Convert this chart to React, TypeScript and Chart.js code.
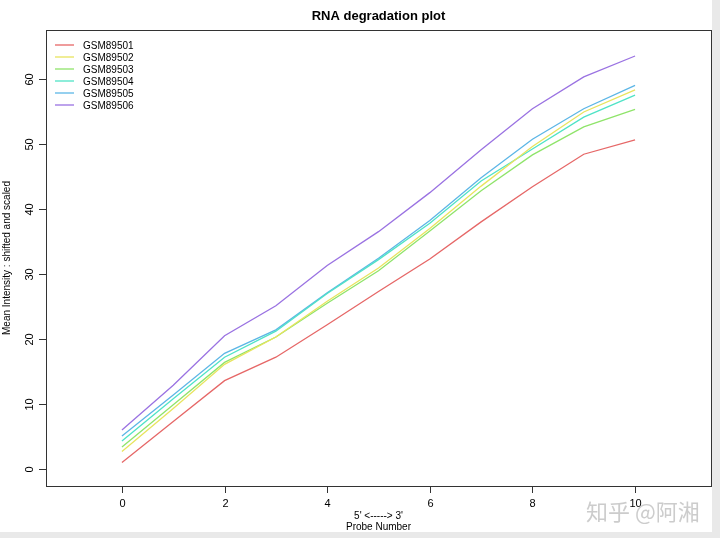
import React, { useEffect, useRef } from "react";
import { Chart, registerables } from "chart.js";

Chart.register(...registerables);

const probeNumbers = [0, 1, 2, 3, 4, 5, 6, 7, 8, 9, 10];
const sampleNames = ["GSM89501", "GSM89502", "GSM89503", "GSM89504", "GSM89505", "GSM89506"];
const gsm89501 = [1.0, 7.3, 13.6, 17.2, 22.2, 27.3, 32.3, 38.0, 43.4, 48.4, 50.6];
const gsm89502 = [2.7, 9.3, 16.1, 20.3, 25.8, 30.9, 37.0, 43.5, 49.6, 54.9, 58.3];
const gsm89503 = [3.4, 9.9, 16.4, 20.3, 25.5, 30.5, 36.6, 42.8, 48.3, 52.6, 55.3];
const gsm89504 = [4.3, 10.8, 17.2, 21.2, 27.0, 32.2, 37.8, 44.3, 49.2, 54.1, 57.5];
const gsm89505 = [5.1, 11.4, 17.8, 21.4, 27.1, 32.4, 38.2, 44.8, 50.7, 55.4, 59.0];
const gsm89506 = [6.0, 12.9, 20.5, 25.1, 31.3, 36.5, 42.5, 49.1, 55.4, 60.3, 63.5];
const seriesValues = [gsm89501, gsm89502, gsm89503, gsm89504, gsm89505, gsm89506];
const seriesColors = ["#E66767", "#E8E45E", "#8FE46A", "#4FE3C6", "#5CB6E6", "#9A72E2"];
const xTickValues = [0, 2, 4, 6, 8, 10];
const yTickValues = [0, 10, 20, 30, 40, 50, 60];

const FONT = "'Liberation Sans', Arial, Helvetica, sans-serif";

const rPlotPlugin = {
  id: "rPlot",
  beforeDraw(chart: any) {
    const ctx = chart.ctx;
    ctx.save();
    ctx.fillStyle = "#e9e9e9";
    ctx.fillRect(0, 0, chart.width, chart.height);
    ctx.fillStyle = "#ffffff";
    ctx.fillRect(0, 0, 712, 532);
    ctx.restore();
  },
  afterDraw(chart: any) {
    const ctx = chart.ctx;
    const a = chart.chartArea;
    const xs = chart.scales.x;
    const ys = chart.scales.y;
    ctx.save();
    // box
    ctx.strokeStyle = "#333";
    ctx.lineWidth = 1;
    ctx.strokeRect(Math.round(a.left) + 0.5, Math.round(a.top) + 0.5, Math.round(a.right - a.left), Math.round(a.bottom - a.top));
    // x ticks
    ctx.fillStyle = "#000";
    ctx.font = `11px ${FONT}`;
    ctx.textAlign = "center";
    ctx.textBaseline = "middle";
    xTickValues.forEach((v) => {
      const px = Math.round(xs.getPixelForValue(v)) + 0.5;
      ctx.beginPath();
      ctx.moveTo(px, a.bottom);
      ctx.lineTo(px, a.bottom + 7);
      ctx.stroke();
      ctx.fillText(String(v), px, a.bottom + 18);
    });
    // y ticks
    yTickValues.forEach((v) => {
      const py = Math.round(ys.getPixelForValue(v)) + 0.5;
      ctx.beginPath();
      ctx.moveTo(a.left, py);
      ctx.lineTo(a.left - 7, py);
      ctx.stroke();
      ctx.save();
      ctx.translate(a.left - 16, py);
      ctx.rotate(-Math.PI / 2);
      ctx.fillText(String(v), 0, 0);
      ctx.restore();
    });
    // title
    const cx = (a.left + a.right) / 2;
    ctx.font = `bold 13px ${FONT}`;
    ctx.fillText("RNA degradation plot", cx, 16);
    // x labels
    ctx.font = `10px ${FONT}`;
    ctx.fillText("5' <-----> 3'", cx, 516);
    ctx.fillText("Probe Number", cx, 527);
    // y label
    ctx.save();
    ctx.translate(7, (a.top + a.bottom) / 2);
    ctx.rotate(-Math.PI / 2);
    ctx.fillText("Mean Intensity : shifted and scaled", 0, 0);
    ctx.restore();
    // legend
    ctx.textAlign = "left";
    sampleNames.forEach((name, i) => {
      const y = 45 + i * 12;
      ctx.strokeStyle = seriesColors[i];
      ctx.lineWidth = 1.3;
      ctx.beginPath();
      ctx.moveTo(55, y);
      ctx.lineTo(74, y);
      ctx.stroke();
      ctx.fillStyle = "#000";
      ctx.fillText(name, 83, y + 1);
    });
    // watermark
    ctx.font = `22px 'Noto Sans CJK SC', sans-serif`;
    ctx.textAlign = "left";
    ctx.textBaseline = "alphabetic";
    ctx.fillStyle = "rgba(195,195,195,0.85)";
    ctx.fillText("知乎 @阿湘", 586, 520);
    ctx.restore();
  },
};

export default function App() {
  const ref = useRef<HTMLCanvasElement>(null);
  useEffect(() => {
    if (!ref.current) return;
    const chart = new Chart(ref.current, {
      type: "line",
      data: {
        datasets: sampleNames.map((name, i) => ({
          label: name,
          data: probeNumbers.map((x, j) => ({ x, y: seriesValues[i][j] })),
          borderColor: seriesColors[i],
          backgroundColor: seriesColors[i],
          borderWidth: 1.3,
          pointRadius: 0,
          tension: 0,
          fill: false,
        })),
      },
      options: {
        animation: false,
        responsive: false,
        devicePixelRatio: 1,
        layout: { padding: { left: 46, top: 30, right: 9, bottom: 52 } },
        plugins: { legend: { display: false }, title: { display: false }, tooltip: { enabled: false } },
        scales: {
          x: { type: "linear", min: -1.48, max: 11.48, display: false },
          y: { type: "linear", min: -2.6, max: 67.5, display: false },
        },
      },
      plugins: [rPlotPlugin],
    });
    return () => chart.destroy();
  }, []);
  return (
    <div style={{ position: "absolute", left: 0, top: 0, width: 720, height: 538 }}>
      <canvas ref={ref} width={720} height={538} style={{ width: 720, height: 538, display: "block" }} />
    </div>
  );
}
